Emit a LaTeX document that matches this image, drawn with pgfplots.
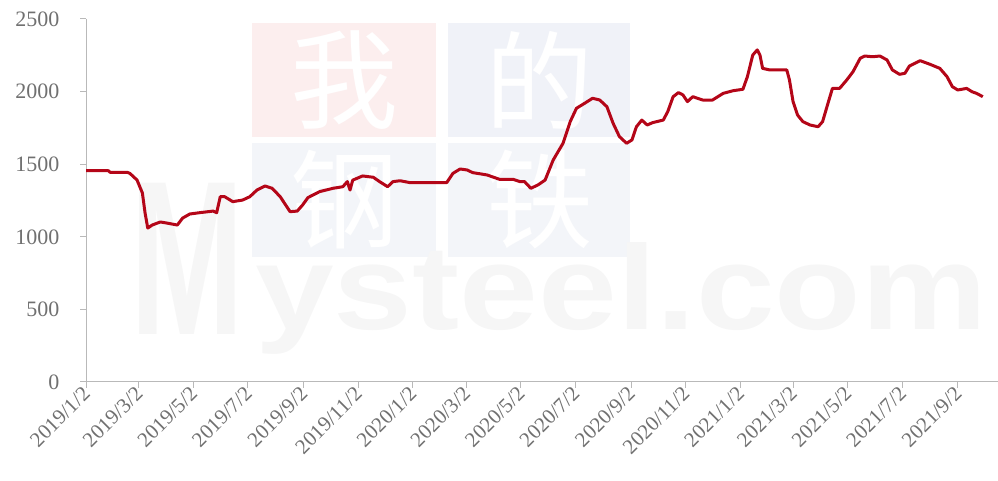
\documentclass[border=0pt]{standalone}
\usepackage{pgfplots}
\pgfplotsset{compat=1.18}
\usepackage{fontspec}
\setmainfont{Liberation Serif}
\newfontfamily\wmsans{Liberation Sans}
\newfontfamily\cjk{Noto Sans CJK SC}

\definecolor{pricered}{RGB}{180,6,24}
\definecolor{axisgray}{RGB}{185,185,185}
\definecolor{labelgray}{RGB}{112,112,112}
\definecolor{wmred}{RGB}{252,238,238}
\definecolor{wmblue}{RGB}{240,242,248}
\definecolor{wmblue2}{RGB}{243,245,249}
\definecolor{wmgray}{RGB}{246,246,246}

% price series: days since 2019/1/2, value
\pgfplotstableread{
d v
0 1455
25 1455
27 1444
46 1444
49 1437
57 1391
63 1302
66 1164
69 1060
74 1081
83 1102
90 1095
102 1081
108 1129
116 1157
127 1166
142 1177
146 1166
150 1276
155 1276
164 1242
175 1253
183 1276
191 1322
200 1350
208 1334
217 1276
228 1173
236 1177
242 1219
248 1270
261 1311
276 1334
287 1345
292 1380
295 1322
298 1390
309 1419
321 1410
328 1380
337 1345
343 1380
351 1386
362 1373
403 1373
410 1437
418 1467
426 1460
432 1442
448 1426
462 1396
477 1396
485 1380
490 1380
497 1334
505 1357
513 1391
522 1529
533 1644
541 1793
548 1885
557 1919
566 1954
574 1942
582 1896
589 1781
596 1690
604 1644
610 1667
615 1758
621 1804
627 1770
633 1786
645 1804
650 1862
656 1965
662 1993
667 1977
672 1931
678 1965
689 1942
700 1942
712 1988
723 2006
734 2016
739 2103
745 2252
750 2287
753 2252
756 2160
764 2149
783 2149
786 2080
790 1931
795 1839
801 1793
809 1770
818 1758
823 1793
829 1919
834 2022
842 2022
850 2080
857 2137
865 2229
870 2245
879 2240
887 2245
895 2218
901 2149
909 2119
915 2126
920 2176
932 2213
943 2188
954 2160
962 2103
968 2034
974 2011
984 2022
990 1999
995 1988
1002 1965
}\pricedata

\begin{document}
\begin{tikzpicture}[x=1pt,y=1pt]
\useasboundingbox (0,0) rectangle (998,481);

% background logo
\fill[wmred]   (252,344) rectangle (436,458);
\fill[wmblue]  (448,344) rectangle (630,458);
\fill[wmblue2] (252,224) rectangle (436,338);
\fill[wmblue2] (448,224) rectangle (630,338);
\node[white,font=\cjk\fontsize{108}{108}\selectfont] at (344,401) {我};
\node[white,font=\cjk\fontsize{108}{108}\selectfont] at (539,401) {的};
\node[white,font=\cjk\fontsize{108}{108}\selectfont] at (344,281) {钢};
\node[white,font=\cjk\fontsize{108}{108}\selectfont] at (539,281) {铁};
\node[wmgray,font=\wmsans\bfseries\fontsize{220}{220}\selectfont,
      anchor=base west,inner sep=0pt,xscale=0.62] at (130,146) {M};
\node[wmgray,font=\wmsans\bfseries\fontsize{120}{120}\selectfont,
      anchor=base west,inner sep=0pt,xscale=1.18] at (255,151) {ysteel.com};

\begin{axis}[
  at={(86pt,99pt)}, anchor=south west,
  scale only axis, width=912pt, height=363pt,
  xmin=0, xmax=1019, ymin=0, ymax=2500,
  axis lines=left,
  axis line style={-, draw=axisgray, line width=1pt},
  tick style={draw=axisgray, line width=1pt},
  tick align=outside,
  major tick length=6pt,
  ytick={0,500,1000,1500,2000,2500},
  xtick={0,59,120,181,243,304,365,425,486,547,609,670,731,790,851,912,974},
  xticklabels={2019/1/2,2019/3/2,2019/5/2,2019/7/2,2019/9/2,2019/11/2,
    2020/1/2,2020/3/2,2020/5/2,2020/7/2,2020/9/2,2020/11/2,
    2021/1/2,2021/3/2,2021/5/2,2021/7/2,2021/9/2},
  /pgf/number format/assume math mode=true,
  /pgf/number format/1000 sep={},
  tick label style={font=\fontsize{21}{21}\selectfont, text=labelgray},
  yticklabel style={font=\fontsize{22}{22}\selectfont, anchor=east, xshift=-17pt},
  xticklabel style={rotate=45, anchor=east, xshift=2pt, yshift=-2pt},
  clip=false,
]
\addplot[pricered, line width=3pt, line join=round, mark=none]
  table[x=d, y=v] {\pricedata};
\end{axis}
\end{tikzpicture}
\end{document}
